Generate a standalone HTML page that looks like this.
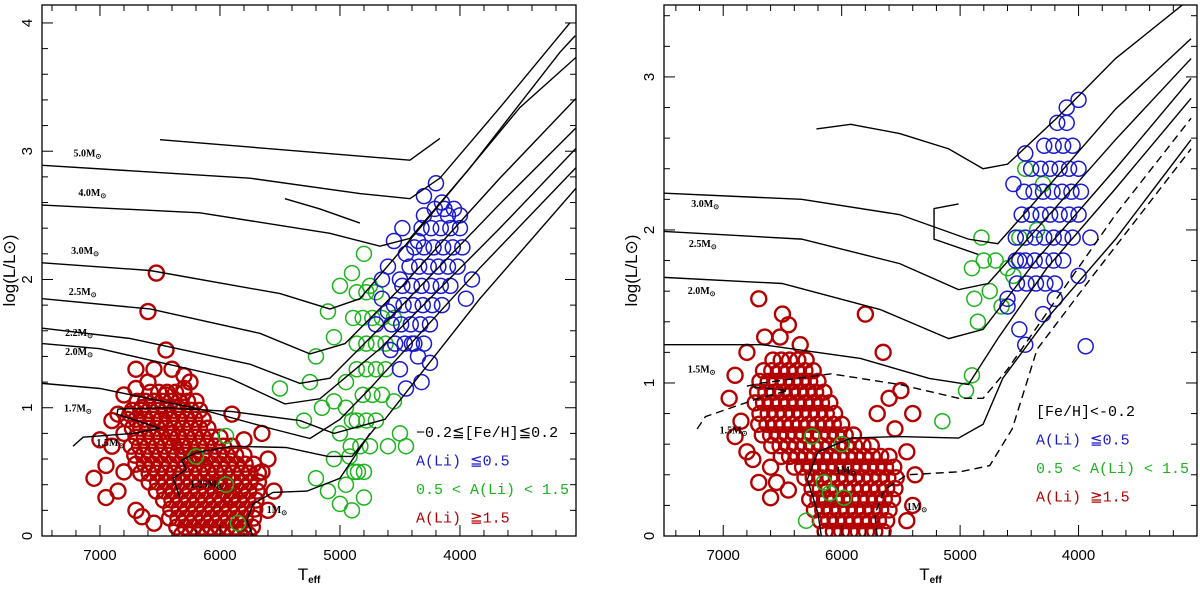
<!DOCTYPE html>
<html><head><meta charset="utf-8"><style>
body{margin:0;background:#fff;}
svg text{font-family:"Liberation Sans",sans-serif;}
.leg{font-family:"Liberation Mono",monospace;font-size:15px;}
.ml{font-family:"Liberation Serif",serif;font-size:10px;font-weight:bold;}
</style></head><body>
<svg id="c" width="1200" height="587" viewBox="0 0 1200 587" xmlns="http://www.w3.org/2000/svg"></svg>
<script>
// ---------- data ----------
const leftRed=[[6100,.5],[6200,.6],[6300,.7],[6000,.4],[5900,.3],[6400,.8],[6500,.9],[6350,1.0],[6450,1.1],[6550,1.05],[6300,1.15],[6650,1.0],[6750,.95],[6800,.8],[6900,.7],[6950,.55],[6850,.35],[6700,.2],[6400,1.3],[6550,1.3],[6300,1.25],[6900,.9],[7000,.75],[6530,2.05],[6600,1.75],[6450,1.45],[6250,1.2],[5900,.95],[5650,.5],[5600,.2],[5800,.75],[6700,1.15],[6800,1.1],[6600,1.2],[6700,1.3],[6950,.3],[7050,.45],[6850,.95],[5600,.6],[5650,.8],[5550,.35],[6800,.5],[6650,.15],[6550,.1]];
const leftRedRows=[[1.12,[6300,6370,6440,6510,6580]],[1.05,[6200,6270,6340,6410,6480,6550,6620,6690]],[.98,[6170,6240,6310,6380,6450,6520,6590,6660,6730]],[.91,[6140,6210,6280,6350,6420,6490,6560,6630,6700,6770]],[.84,[6100,6170,6240,6310,6380,6450,6520,6590,6660,6730]],[.77,[6000,6070,6140,6210,6280,6350,6420,6490,6560,6630,6700]],[.70,[5900,5970,6040,6110,6180,6250,6320,6390,6460,6530,6600,6670,6740]],[.63,[5800,5870,5940,6010,6080,6150,6220,6290,6360,6430,6500,6570,6640,6710]],[.56,[5720,5790,5860,5930,6000,6070,6140,6210,6280,6350,6420,6490,6560,6630,6700]],[.49,[5680,5750,5820,5890,5960,6030,6100,6170,6240,6310,6380,6450,6520,6590,6660]],[.42,[5680,5750,5820,5890,5960,6030,6100,6170,6240,6310,6380,6450,6520,6590]],[.35,[5690,5760,5830,5900,5970,6040,6110,6180,6250,6320,6390,6460,6530]],[.28,[5700,5770,5840,5910,5980,6050,6120,6190,6260,6330,6400,6470]],[.21,[5710,5780,5850,5920,5990,6060,6130,6200,6270,6340,6410]],[.14,[5720,5790,5860,5930,6000,6070,6140,6210,6280,6350,6420]],[.07,[5730,5800,5870,5940,6010,6080,6150,6220,6290,6360]],[.01,[5760,5830,5900,5970,6040,6110,6180,6250,6320]]];
const leftGreen=[[4800,.3],[4850,.5],[4900,.9],[4950,1.2],[5000,.8],[5050,.6],[4950,.4],[4900,.2],[5100,.35],[5200,.45],[4550,1.7],[4750,1.95],[4900,2.05],[4800,2.2],[5000,1.95],[5100,1.75],[5050,1.55],[5200,1.4],[5250,1.2],[5300,.9],[4950,1.0],[4600,.7],[4550,1.05],[5150,1.0],[5000,.25],[4920,.62],[5050,1.05],[4500,.8],[4450,.7],[5500,1.15],[6200,.62],[5950,.78],[5950,.4],[5850,.1]];
const leftGreenRows=[[1.9,[4700,4780,4860]],[1.7,[4650,4730,4810,4890]],[1.5,[4620,4700,4780,4860]],[1.3,[4620,4700,4780,4860]],[1.1,[4650,4730,4810]],[.9,[4700,4780,4860]],[.7,[4750,4830,4910]],[.5,[4800,4880]]];
const leftBlue=[[4300,2.5],[4100,2.5],[4350,2.3],[4450,2.2],[4500,2.0],[4600,1.75],[4400,1.5],[4350,1.4],[4500,1.3],[4450,1.15],[3950,1.85],[3900,2.0],[4000,2.5],[4150,2.6],[4200,2.75],[4300,2.65],[4480,2.4],[4550,2.3],[4600,2.1],[4650,2.0],[4650,1.85],[4700,1.65],[4580,1.45],[4320,1.2],[4250,1.35]];
const leftBlueRows=[[2.55,[4050,4130,4210]],[2.4,[4000,4080,4160,4240,4320]],[2.25,[3980,4060,4140,4220,4300,4380]],[2.1,[4020,4100,4180,4260,4340,4420]],[1.95,[4080,4160,4240,4320,4400,4480]],[1.8,[4150,4230,4310,4390,4470,4550]],[1.65,[4250,4330,4410,4490,4570]],[1.5,[4300,4380,4460,4540]]];
const rightRed=[[6850,.75],[6900,.65],[6950,.9],[6800,.55],[6700,.35],[6600,.25],[6900,1.05],[6700,1.55],[6500,1.45],[5800,1.45],[5650,1.2],[5400,.8],[5500,.95],[5600,.9],[5700,.8],[5550,.7],[5450,.55],[6800,1.2],[6650,1.3],[6520,1.3],[6450,1.38],[6350,1.25],[6600,.45],[6550,.35],[6450,.3],[6750,.5],[5400,.2],[5450,.1],[5380,.4]];
const rightRedRows=[[1.15,[6300,6370,6440,6510,6580]],[1.08,[6240,6310,6380,6450,6520,6590,6660]],[1.01,[6200,6270,6340,6410,6480,6550,6620,6690]],[.94,[6150,6220,6290,6360,6430,6500,6570,6640,6710]],[.87,[6100,6170,6240,6310,6380,6450,6520,6590,6660,6730]],[.80,[6060,6130,6200,6270,6340,6410,6480,6550,6620,6690]],[.73,[6000,6070,6140,6210,6280,6350,6420,6490,6560,6630,6700]],[.66,[5900,5970,6040,6110,6180,6250,6320,6390,6460,6530,6600,6670]],[.59,[5750,5820,5890,5960,6030,6100,6170,6240,6310,6380,6450,6520,6590]],[.52,[5600,5670,5740,5810,5880,5950,6020,6090,6160,6230,6300,6370,6440,6510]],[.45,[5560,5630,5700,5770,5840,5910,5980,6050,6120,6190,6260,6330,6400]],[.38,[5540,5610,5680,5750,5820,5890,5960,6030,6100,6170,6240,6310]],[.31,[5550,5620,5690,5760,5830,5900,5970,6040,6110,6180,6250]],[.24,[5570,5640,5710,5780,5850,5920,5990,6060,6130,6200,6270]],[.17,[5600,5670,5740,5810,5880,5950,6020,6090,6160,6230]],[.10,[5620,5690,5760,5830,5900,5970,6040,6110,6180]],[.03,[5650,5720,5790,5860,5930,6000,6070,6140]]];
const rightGreen=[[6250,.65],[6000,.6],[6150,.35],[6100,.28],[6300,.1],[5980,.25],[4950,.95],[4900,1.05],[4850,1.4],[4880,1.55],[4900,1.75],[4700,1.8],[4750,1.6],[4600,1.75],[4500,1.95],[4400,2.1],[4300,2.3],[4350,2.0],[4800,1.8],[4650,1.5],[5150,.75],[4820,1.95],[4550,1.7],[4450,2.4]];
const rightBlue=[[4450,1.25],[4500,1.35],[4600,1.55],[3940,1.24],[4000,1.7],[3900,1.95],[4000,2.85],[4100,2.8],[4500,1.8],[4600,1.5],[4300,1.45],[4200,1.55],[4550,2.3],[4450,2.5]];
const rightBlueRows=[[2.7,[4100,4180]],[2.55,[4050,4130,4210,4290]],[2.4,[4000,4080,4160,4240,4320,4400]],[2.25,[3980,4060,4140,4220,4300,4380,4460]],[2.1,[4000,4080,4160,4240,4320,4400,4480]],[1.95,[4050,4130,4210,4290,4370,4450,4530]],[1.8,[4130,4210,4290,4370,4450,4530]],[1.65,[4200,4280,4360,4440,4520]]];
const leftTracks=[
 [[6500,3.09],[4417,2.93],[4167,3.10]],
 [[7480,2.89],[5751,2.79],[4834,2.67],[4417,2.63],[4167,2.79],[3667,3.34],[3084,4.0]],
 [[7480,2.58],[6167,2.52],[5084,2.36],[4667,2.26],[4417,2.32],[3917,2.87],[3168,3.77],[3040,3.9]],
 [[5459,2.63],[5167,2.55],[4834,2.44]],
 [[7480,2.13],[6583,2.07],[5500,1.89],[5084,1.77],[4834,1.85],[4334,2.40],[3501,3.34],[3035,3.73]],
 [[7480,1.85],[6583,1.77],[5667,1.58],[5250,1.42],[4958,1.50],[4500,1.93],[3667,2.79],[3035,3.41]],
 [[7480,1.62],[6750,1.54],[5751,1.34],[5334,1.19],[5084,1.23],[4584,1.70],[3667,2.59],[3035,3.18]],
 [[7480,1.50],[7000,1.46],[5917,1.23],[5459,1.03],[5167,1.07],[4667,1.46],[3667,2.40],[3035,3.02]],
 [[7480,1.19],[7000,1.15],[6167,.99],[5584,.84],[5250,.76],[5000,.91],[4750,1.15],[3834,2.09],[3035,2.87]],
 [[7225,.70],[7140,.77],[6725,.80],[6500,.84],[6667,.89],[6858,.95],[6850,.99],[6442,1.0],[5900,.97],[5333,.9],[5050,.8],[4625,.91],[3834,1.85],[3035,2.71]],
 [[6333,.30],[6390,.45],[6280,.52],[6320,.59],[6200,.65],[5900,.70],[5450,.69],[5100,.62],[4900,.62],[4700,.85]],
 [[5725,0],[5775,.12],[5725,.25],[5558,.34],[5275,.35],[5000,.45],[4750,.8]]
];
const rightTracks=[
 [[6213,2.66],[5924,2.69],[5510,2.63],[5096,2.53],[4806,2.40],[4599,2.43],[4185,2.73],[3688,3.12],[3108,3.48]],
 [[7500,2.24],[6338,2.20],[5510,2.10],[4930,1.94],[4682,1.91],[4350,2.20],[3688,2.79],[3050,3.25]],
 [[5013,2.17],[5220,2.14],[5220,1.94],[4847,1.84]],
 [[7500,1.99],[6338,1.94],[5510,1.78],[5013,1.61],[4764,1.65],[4350,2.01],[3688,2.59],[3050,3.12]],
 [[7500,1.69],[6503,1.65],[5675,1.48],[5096,1.29],[4806,1.35],[4350,1.81],[3688,2.40],[3050,2.99]],
 [[7500,1.25],[6669,1.25],[5841,1.16],[5261,1.03],[4930,.99],[4682,1.29],[4268,1.75],[3688,2.27],[3050,2.86]],
 [[6172,0],[6200,.15],[6290,.37],[6200,.55],[5920,.64],[5510,.65],[5013,.64],[4806,.73],[4640,1.03],[4268,1.42],[3688,1.94],[3050,2.59]]
];
const rightDashed=[
 [[7220,.70],[7150,.78],[6700,.90],[6450,.95],[6800,.98],[6669,1.0],[6089,1.06],[5510,.99],[5013,.90],[4806,.90],[4599,1.09],[4185,1.55],[3688,2.10],[3050,2.73]],
 [[5700,0],[5720,.14],[5640,.3],[5450,.4],[5000,.42],[4750,.46],[4560,.70],[4350,1.22],[3900,1.68],[3050,2.53]]
];
const xTicks=[7000,6000,5000,4000,3000];
const leftYTicks=[0,1,2,3,4];
const rightYTicks=[0,1,2,3];
const leftMassLabels=[["5.0",7220,2.96],["4.0",7180,2.65],["3.0",7240,2.2],["2.5",7260,1.88],["2.2",7290,1.56],["2.0",7290,1.41],["1.7",7300,.97],["1.5",7030,.7],["1.25",6250,.38],["1M",5610,.18]];
const rightMassLabels=[["3.0",7270,2.15],["2.5",7290,1.89],["2.0",7300,1.58],["1.5",7300,1.07],["1.5",7030,.67],["1M",6050,.41],["1M",5450,.17]];

// ---------- drawing ----------
const NS="http://www.w3.org/2000/svg";
const svg=document.getElementById('c');
function mk(tag,at,parent){const e=document.createElementNS(NS,tag);for(const k in at)e.setAttribute(k,at[k]);(parent||svg).appendChild(e);return e;}
function rowsToPts(rows){const out=[];rows.forEach(r=>r[1].forEach(t=>out.push([t,r[0]])));return out;}
function panel(cfg){
 const g=mk('g',{});
 
 
 const X=t=>cfg.x0+(cfg.t0-t)/(cfg.t0-cfg.t1)*(cfg.x1-cfg.x0);
 const Y=l=>cfg.y0-(l-cfg.l0)/(cfg.l1-cfg.l0)*(cfg.y0-cfg.y1);
 const clip='cl'+cfg.name;
 const d=mk('defs',{},g);const cp=mk('clipPath',{id:clip},d);
 mk('rect',{x:cfg.x0,y:cfg.y1,width:cfg.x1-cfg.x0,height:cfg.y0-cfg.y1},cp);
 const pg=mk('g',{'clip-path':'url(#'+clip+')'},g);
 function pts(arr,col,nm,sw){arr.forEach(p=>{const c=mk('circle',{cx:X(p[0]),cy:Y(p[1]),r:7.5,fill:'none',stroke:col,'stroke-width':sw},pg);
  
  });}
 pts(cfg.red,'#b30000','star-high-li',2.4);
 pts(cfg.green,'#1db31d','star-mid-li',1.5);
 pts(cfg.blue,'#1a1acc','star-low-li',1.5);
 function tr(arr,dash,nm){arr.forEach(t=>{const p=mk('polyline',{points:t.map(q=>X(q[0])+','+Y(q[1])).join(' '),fill:'none',stroke:'#000','stroke-width':1.4,'stroke-dasharray':dash},pg);
  
  });}
 tr(cfg.tracks,'none','evolution-track');
 tr(cfg.dashed||[],'8,5','evolution-track-dashed');
 cfg.masses.forEach(m=>{const t=mk('text',{x:X(m[1]),y:Y(m[2]),class:'ml'},g);
  
  
  const lab=m[0].endsWith('M')?m[0]:m[0]+'M';t.textContent=lab;const s=mk('tspan',{'font-size':'7','dy':'2'},t);s.textContent='⊙';});
 const fr=mk('rect',{x:cfg.x0,y:cfg.y1,width:cfg.x1-cfg.x0,height:cfg.y0-cfg.y1,fill:'none',stroke:'#000','stroke-width':1.3},g);
 
 
 const tk=mk('g',{stroke:'#000','stroke-width':1},g);
 for(let t=7400;t>=3000;t-=200){const x=X(t);if(x<cfg.x0||x>cfg.x1)continue;const L=(t%1000==0)?11:6;
  mk('line',{x1:x,x2:x,y1:cfg.y0,y2:cfg.y0-L},tk);mk('line',{x1:x,x2:x,y1:cfg.y1,y2:cfg.y1+L},tk);}
 for(let l=0;l<=4.2;l+=0.2){const y=Y(l);if(y<cfg.y1)break;const L=(Math.abs(l-Math.round(l))<1e-6)?11:6;
  mk('line',{x1:cfg.x0,x2:cfg.x0+L,y1:y,y2:y},tk);mk('line',{x1:cfg.x1,x2:cfg.x1-L,y1:y,y2:y},tk);}
 xTicks.forEach(t=>{const x=X(t);if(x>cfg.x1-25)return;const e=mk('text',{x:x,y:cfg.y0+24,'text-anchor':'middle','font-size':15},g);
  
  e.textContent=t;});
 cfg.yticks.forEach(l=>{const y=Y(l);const e=mk('text',{x:0,y:0,'text-anchor':'middle','font-size':15,transform:`translate(${cfg.x0-10},${y}) rotate(-90)`},g);
  
  e.textContent=l;});
 const xt=mk('text',{x:(cfg.x0+cfg.x1)/2,y:580,'text-anchor':'middle','font-size':17,'font-family':'Liberation Serif,serif'},g);
 
 
 xt.textContent='T';const sb=mk('tspan',{'font-size':10,dy:3,'font-weight':'bold'},xt);sb.textContent='eff';
 const yt=mk('text',{x:0,y:0,'text-anchor':'middle','font-size':17,'font-family':'Liberation Serif,serif',transform:`translate(${cfg.x0-27},${(cfg.y0+cfg.y1)/2}) rotate(-90)`},g);
 
 
 yt.textContent='log(L/L⊙)';
 cfg.legend.forEach((l,i)=>{const e=mk('text',{x:cfg.lx,y:cfg.ly+i*28.5,class:'leg',fill:l[1]},g);
  
  e.textContent=l[0];});
}
panel({name:'left-panel',x0:42,x1:576,y0:536,y1:5,t0:7483,t1:3033,l0:0,l1:4.14,
 red:leftRed.concat(rowsToPts(leftRedRows)),green:leftGreen.concat(rowsToPts(leftGreenRows)),blue:leftBlue.concat(rowsToPts(leftBlueRows)),
 tracks:leftTracks,masses:leftMassLabels,yticks:leftYTicks,lx:416,ly:437,
 legend:[['−0.2≦[Fe/H]≦0.2','#000'],['A(Li) ≦0.5','#1a1acc'],['0.5 < A(Li) < 1.5','#1db31d'],['A(Li) ≧1.5','#b30000']]});
panel({name:'right-panel',x0:664,x1:1197,y0:536,y1:5,t0:7500,t1:3000,l0:0,l1:3.47,
 red:rightRed.concat(rowsToPts(rightRedRows)),green:rightGreen,blue:rightBlue.concat(rowsToPts(rightBlueRows)),
 tracks:rightTracks,dashed:rightDashed,masses:rightMassLabels,yticks:rightYTicks,lx:1036,ly:416,
 legend:[['[Fe/H]<-0.2','#000'],['A(Li) ≦0.5','#1a1acc'],['0.5 < A(Li) < 1.5','#1db31d'],['A(Li) ≧1.5','#b30000']]});
</script>
</body></html>
